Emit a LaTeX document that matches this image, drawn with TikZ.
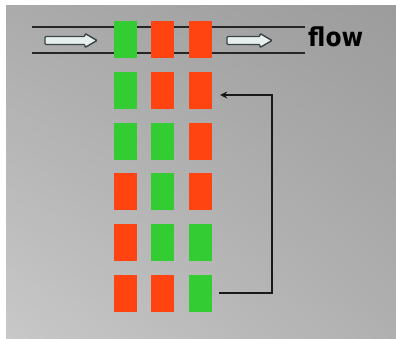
\documentclass[tikz,border=0pt]{standalone}
\usepackage{fontspec}
\newfontfamily\flowfont{DejaVu Sans Condensed}
\usetikzlibrary{arrows.meta,shadings}
\definecolor{cellgreen}{HTML}{33CC33}
\definecolor{cellred}{HTML}{FF4411}
\definecolor{bgtl}{HTML}{ABABAB}
\definecolor{bgtr}{HTML}{9C9C9C}
\definecolor{bgbl}{HTML}{C8C8C8}
\definecolor{bgbr}{HTML}{B0B0B0}
\definecolor{arrowfill}{HTML}{E6EEEE}
\definecolor{arrowedge}{HTML}{3A4444}
\tikzset{
  cell/.style={rectangle, inner sep=0pt, minimum width=23pt, minimum height=37pt, draw=none},
  gcell/.style={cell, fill=cellgreen},
  rcell/.style={cell, fill=cellred},
  pipe/.style={line width=1.5pt, black!85},
  hollow/.style={draw=arrowedge, fill=arrowfill, line width=1.4pt, rounded corners=1pt},
  loop/.style={line width=1.5pt, black!90, -{Stealth[length=7pt,width=7pt]}}
}
\begin{document}
\begin{tikzpicture}[x=1pt,y=-1pt]
  \useasboundingbox (0,0) rectangle (396,339);
  % backdrop
  \fill[white] (0,0) rectangle (396,339);
  \shade[upper left=bgtl, upper right=bgtr, lower left=bgbl, lower right=bgbr]
    (6,6) rectangle (396,339);

  % pipe walls
  \draw[pipe] (32,27) -- (305,27);
  \draw[pipe] (32,53) -- (305,53);

  % hollow flow arrows
  \draw[hollow] (45,36.5) -- (85,36.5) -- (85,33.5) -- (97,40.5) -- (85,47.5) -- (85,44.5) -- (45,44.5) -- cycle;
  \draw[hollow] (227,36.5) -- (260,36.5) -- (260,33.5) -- (272,40.5) -- (260,47.5) -- (260,44.5) -- (227,44.5) -- cycle;

  \node[font=\flowfont\bfseries\fontsize{26}{30}\selectfont, anchor=base west, inner sep=0pt] (flow) at (308,46.5) {flow};

  % cells: row 1 sits in the pipe
  \node[gcell] (b11) at (125,40) {};
  \node[rcell] (b12) at (162.5,40) {};
  \node[rcell] (b13) at (200.5,40) {};

  \node[gcell] (b21) at (125,91) {};
  \node[rcell] (b22) at (162.5,91) {};
  \node[rcell] (b23) at (200.5,91) {};

  \node[gcell] (b31) at (125,141.5) {};
  \node[gcell] (b32) at (162.5,141.5) {};
  \node[rcell] (b33) at (200.5,141.5) {};

  \node[rcell] (b41) at (125,192) {};
  \node[gcell] (b42) at (162.5,192) {};
  \node[rcell] (b43) at (200.5,192) {};

  \node[rcell] (b51) at (125,242.5) {};
  \node[gcell] (b52) at (162.5,242.5) {};
  \node[gcell] (b53) at (200.5,242.5) {};

  \node[rcell] (b61) at (125,293) {};
  \node[rcell] (b62) at (162.5,293) {};
  \node[gcell] (b63) at (200.5,293) {};

  % return loop from the last row back to the second
  \coordinate (turn) at (272,0);
  \draw[loop] ([xshift=7pt]b63.east) -- (turn |- b63.east) -- ([yshift=-4pt]turn |- b23.east) -- ([xshift=8pt,yshift=-4pt]b23.east);
\end{tikzpicture}
\end{document}
